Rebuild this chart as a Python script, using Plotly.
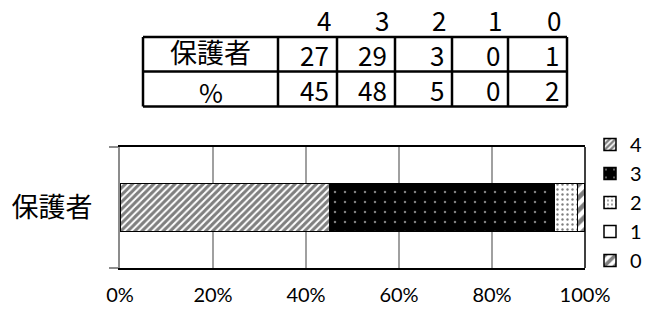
import plotly.graph_objects as go

# ---- data ----
categories = ["4", "3", "2", "1", "0"]
group = "保護者"
counts = [27, 29, 3, 0, 1]
percents = [45, 48, 5, 0, 2]
row_labels = ["保護者", "%"]
x_ticks = [0, 20, 40, 60, 80, 100]
x_tick_text = [f"{t}%" for t in x_ticks]

# ---- styles ----
patterns = {
    "4": dict(shape="/", fgcolor="black", bgcolor="white", size=5, solidity=0.6),
    "3": dict(shape=".", fgcolor="white", bgcolor="black", size=10, solidity=0.05),
    "2": dict(shape=".", fgcolor="black", bgcolor="white", size=5, solidity=0.18),
    "1": dict(shape="", fgcolor="black", bgcolor="white"),
    "0": dict(shape="/", fgcolor="black", bgcolor="white", size=9, solidity=0.5),
}

W, H = 650, 309
L, R, T, B = 120, 585, 147, 268   # plot area in page pixels


def px(x):
    return (x - L) / (R - L)


def py(y):
    return (B - y) / (B - T)


fig = go.Figure()
for cat, n in zip(categories, counts):
    p = patterns[cat]
    fig.add_trace(go.Bar(
        y=[group], x=[n], name=cat, orientation="h",
        marker=dict(color="white", line=dict(color="black", width=1.5),
                    pattern=p),
        width=0.4,
    ))

fig.update_layout(
    width=W, height=H,
    margin=dict(l=L, r=W - R, t=T, b=H - B, pad=0, autoexpand=False),
    barmode="stack", barnorm="percent",
    plot_bgcolor="white", paper_bgcolor="white",
    showlegend=True,
    legend=dict(traceorder="normal", xref="container", yref="container",
                x=590 / W, xanchor="left", y=1 - 125 / H, yanchor="top",
                maxheight=300,
                font=dict(family="Lato, Noto Sans CJK JP", size=20, color="black"),
                itemwidth=30, bgcolor="rgba(0,0,0,0)"),
    font=dict(family="Lato, Noto Sans CJK JP", color="black"),
)
fig.update_xaxes(
    range=[0, 100], tickvals=x_ticks, ticktext=x_tick_text,
    showgrid=True, gridcolor="#a0a0a0", gridwidth=1.5,
    showline=True, linecolor="black", linewidth=1.5, mirror=True,
    ticks="", tickfont=dict(size=20, family="Lato"), ticklabelstandoff=8,
    zeroline=False, fixedrange=True, automargin=False,
)
fig.update_yaxes(
    type="category", tickson="boundaries", ticks="outside", ticklen=9,
    tickcolor="#8c8c8c", tickwidth=2,
    showline=True, linecolor="#8c8c8c", linewidth=2,
    tickfont=dict(size=27, family="Noto Sans CJK JP"),
    ticklabelstandoff=20,
    showgrid=False, fixedrange=True, automargin=False,
)
# right border of plot
fig.add_shape(type="line", xref="paper", yref="paper", x0=1, x1=1, y0=0, y1=1,
              line=dict(color="black", width=1.5))

# ---- table ----
col_edges = [143, 278, 337, 395, 452, 508, 567]
row_edges = [37, 71.5, 106.5]
tfont = dict(family="Noto Sans CJK JP", size=26, color="black")
lfont = dict(family="Noto Sans CJK JP", size=27, color="black")
lw = 2.5
for xe in col_edges:
    fig.add_shape(type="line", xref="paper", yref="paper",
                  x0=px(xe), x1=px(xe), y0=py(row_edges[0]), y1=py(row_edges[-1]),
                  line=dict(color="black", width=lw))
for ye in row_edges:
    fig.add_shape(type="line", xref="paper", yref="paper",
                  x0=px(col_edges[0]), x1=px(col_edges[-1]), y0=py(ye), y1=py(ye),
                  line=dict(color="black", width=lw))

# header
for i, cat in enumerate(categories):
    fig.add_annotation(text=cat, xref="paper", yref="paper",
                       x=px(col_edges[i + 2] - 4), y=py(19),
                       xanchor="right", yanchor="middle", showarrow=False,
                       font=tfont, height=30, valign="middle")
rows = [counts, percents]
label_shift = [-3, 2]
for r, (lab, vals) in enumerate(zip(row_labels, rows)):
    yc = (row_edges[r] + row_edges[r + 1]) / 2
    fig.add_annotation(text=lab, xref="paper", yref="paper",
                       x=px((col_edges[0] + col_edges[1]) / 2), y=py(yc + label_shift[r]),
                       xanchor="center", yanchor="middle", showarrow=False,
                       font=lfont if r == 0 else tfont, height=32, valign="middle")
    for i, v in enumerate(vals):
        fig.add_annotation(text=str(v), xref="paper", yref="paper",
                           x=px(col_edges[i + 2] - 6), y=py(yc),
                           xanchor="right", yanchor="middle", showarrow=False,
                           font=tfont, height=32, valign="middle")

fig.write_html("out.html", config={"displayModeBar": False},
               post_script="document.body.style.margin='0';")
